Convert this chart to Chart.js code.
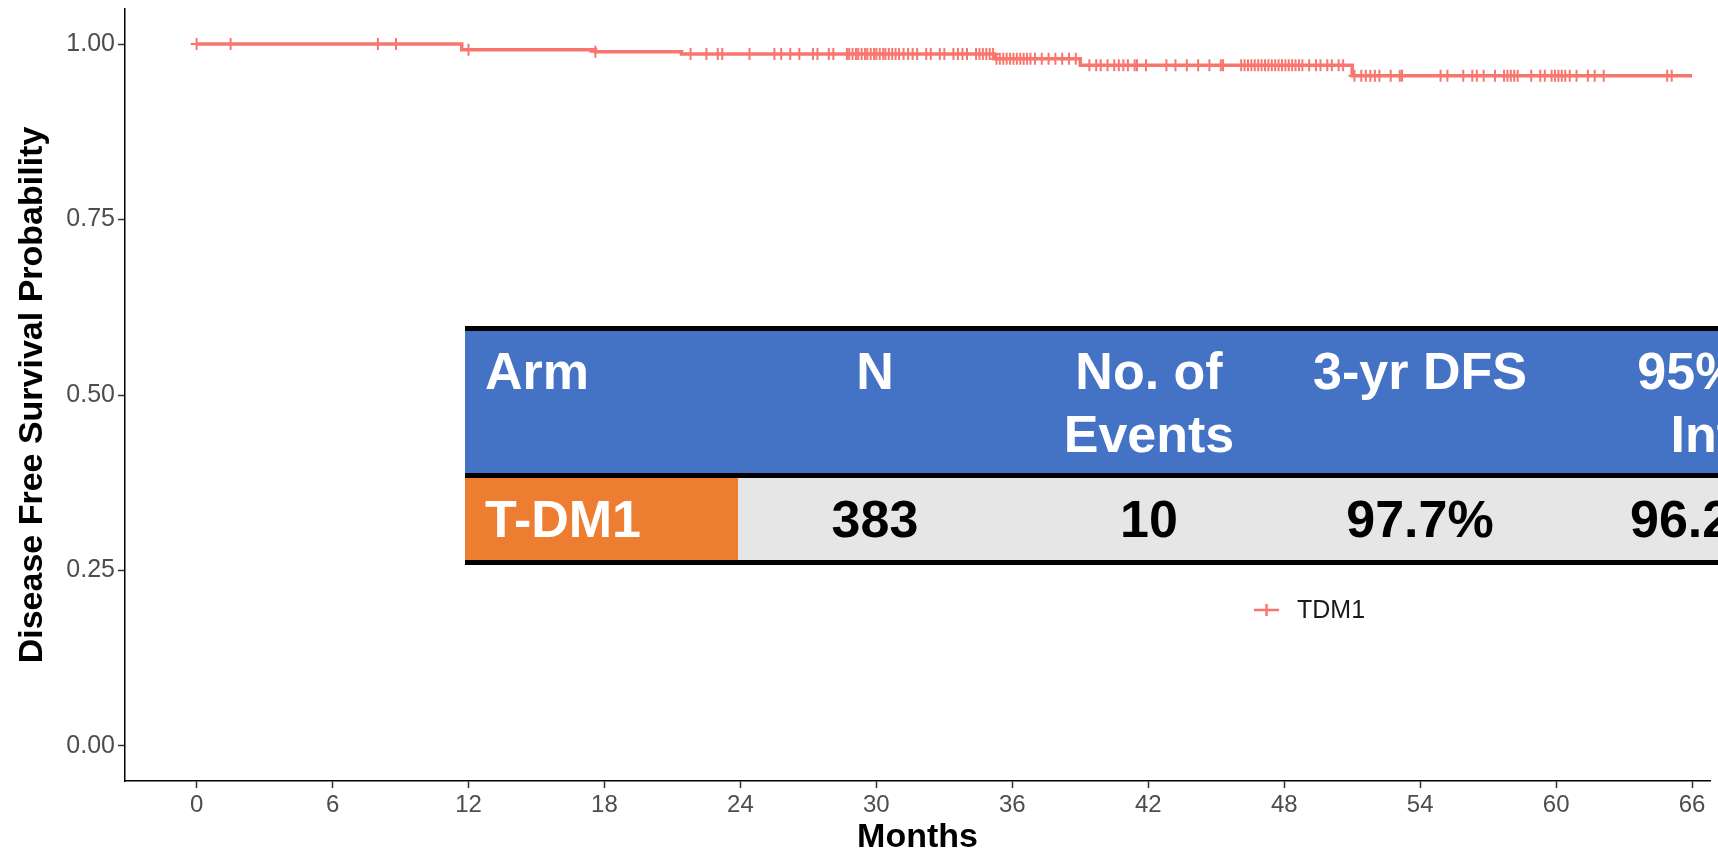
<!DOCTYPE html>
<html lang="en">
<head>
    <meta charset="UTF-8">
    <title>Disease Free Survival - T-DM1</title>
    <script src="https://cdn.jsdelivr.net/npm/chart.js"></script>
    <style>
        html, body { margin: 0; padding: 0; background: #fff; overflow: hidden; }
        #wrap { position: relative; width: 1718px; height: 851px; }
        #kmChart { position: absolute; left: 0; top: 0; }
        /* summary table drawn over the plot */
        .summary {
            position: absolute; left: 465px; top: 326px;
            font-family: 'Liberation Sans', Arial, sans-serif;
            font-weight: bold; font-size: 52px; white-space: pre-line;
        }
        .row { display: flex; border-top: 5px solid #000; }
        .row.head { height: 142px; background: #4472C4; color: #fff; }
        .row.body { height: 82px; background: #E7E6E6; color: #000; border-bottom: 5px solid #000; }
        .cell { flex: none; box-sizing: border-box; text-align: center; }
        .head .cell { padding-top: 9px; line-height: 63px; }
        .body .cell { line-height: 82px; }
        .cell.arm { text-align: left; padding-left: 20px; }
        .body .cell.arm { background: #ED7D31; color: #fff; }
    </style>
</head>
<body>
<div id="wrap">
    <canvas id="kmChart" width="1718" height="851"></canvas>
    <div class="summary" id="summary"></div>
</div>

<script>
    // Kaplan-Meier steps (months, survival probability)
    const kmTimes = [0, 11.7, 17.6, 21.4, 35.2, 39.0, 51.0, 66.0];
    const kmSurv  = [1.0, 0.992, 0.989, 0.986, 0.979, 0.970, 0.955, 0.955];

    // censoring marks (months)
    const censorTimes = [
        0, 1.5, 8.0, 8.8, 12.0, 17.6, 21.8,
        22.5, 23.0, 23.2, 24.4, 25.5, 25.8, 26.2, 26.6, 27.2, 27.4, 27.9, 28.1,
        28.7, 28.8, 28.95, 29.1, 29.2, 29.35, 29.5, 29.6, 29.75, 29.9, 30.0, 30.15,
        30.3, 30.4, 30.55, 30.7, 30.85, 31.0, 31.2, 31.4,
        31.6, 31.8, 32.2, 32.4, 32.8, 33.0, 33.4, 33.6, 33.8, 34.0,
        34.4, 34.55, 34.7, 34.85, 35.0, 35.15, 35.3,
        35.45, 35.6, 35.75, 35.9, 36.05, 36.2, 36.35, 36.5, 36.65, 36.8,
        37.0, 37.3, 37.6, 37.9, 38.2, 38.5, 38.8,
        39.4, 39.7, 39.9, 40.2, 40.5, 40.7, 40.9, 41.1, 41.4, 41.5, 41.9,
        42.8, 43.2, 43.7, 44.2, 44.7, 45.2, 45.3,
        46.1, 46.25, 46.4, 46.55, 46.7, 46.85, 47.0, 47.15, 47.3, 47.45, 47.6,
        47.75, 47.9, 48.05, 48.2, 48.35, 48.5, 48.65, 48.8,
        49.1, 49.4, 49.6, 49.9, 50.1, 50.4, 50.6,
        51.1, 51.4, 51.6, 51.8, 52.0, 52.2, 52.7, 53.1, 53.2,
        54.9, 55.2, 55.9, 56.3, 56.5, 56.8, 57.3, 57.7, 57.85, 58.0, 58.15, 58.3,
        58.9, 59.3, 59.5, 59.8, 59.95, 60.1, 60.25, 60.4, 60.6, 60.9,
        61.4, 61.7, 62.1, 64.9, 65.1
    ];

    const xTicks = [0, 6, 12, 18, 24, 30, 36, 42, 48, 54, 60, 66];
    const yTicks = [0, 0.25, 0.5, 0.75, 1.0];

    // summary table
    const tableHeaders = ['Arm', 'N', 'No. of\nEvents', '3-yr DFS', '95% Conf.\nInterval'];
    const tableValues  = ['T-DM1', '383', '10', '97.7%', '96.2-99.3%'];
    const colWidths = [273, 274, 274, 268, 418];

    const lineColor = '#F8766D';
    const fontFamily = "'Liberation Sans', Arial, sans-serif";

    // build the table
    var summary = document.getElementById('summary');
    [['head', tableHeaders], ['body', tableValues]].forEach(function (r) {
        var row = document.createElement('div');
        row.className = 'row ' + r[0];
        r[1].forEach(function (txt, i) {
            var c = document.createElement('div');
            c.className = 'cell' + (i === 0 ? ' arm' : '');
            c.style.width = colWidths[i] + 'px';
            c.textContent = txt;
            row.appendChild(c);
        });
        summary.appendChild(row);
    });

    function survAt(t) {
        var s = kmSurv[0];
        for (var i = 0; i < kmTimes.length; i++) {
            if (kmTimes[i] <= t) s = kmSurv[i];
        }
        return s;
    }

    // legend placed inside the plot, like the original
    const kmLegend = {
        id: 'kmLegend',
        afterDraw(chart) {
            const ctx = chart.ctx;
            const ds = chart.data.datasets[0];
            const x = 1254, y = 610;
            ctx.save();
            ctx.strokeStyle = ds.borderColor;
            ctx.lineWidth = 2.5;
            ctx.beginPath();
            ctx.moveTo(x, y); ctx.lineTo(x + 25, y);
            ctx.moveTo(x + 12.5, y - 6); ctx.lineTo(x + 12.5, y + 6);
            ctx.stroke();
            ctx.fillStyle = '#1a1a1a';
            ctx.font = '25px ' + fontFamily;
            ctx.textBaseline = 'middle';
            ctx.fillText(ds.label, x + 43, y + 1);
            ctx.restore();
        }
    };

    var ctx = document.getElementById('kmChart').getContext('2d');
    new Chart(ctx, {
        type: 'line',
        data: {
            datasets: [{
                label: 'TDM1',
                data: kmTimes.map((t, i) => ({ x: t, y: kmSurv[i] })),
                stepped: 'before',
                borderColor: lineColor,
                borderWidth: 3.5,
                pointRadius: 0,
                fill: false
            }, {
                label: 'censored',
                data: censorTimes.map(t => ({ x: t, y: survAt(t) })),
                showLine: false,
                pointStyle: 'cross',
                pointRadius: 6,
                pointBorderWidth: 2,
                pointBorderColor: lineColor,
                borderColor: lineColor
            }]
        },
        options: {
            responsive: false,
            animation: false,
            layout: { padding: { top: 9, left: 0, right: 0, bottom: 0 } },
            plugins: { legend: { display: false }, tooltip: { enabled: false } },
            scales: {
                x: {
                    type: 'linear',
                    min: -3.16,
                    max: 66.79,
                    afterBuildTicks: s => { s.ticks = xTicks.map(v => ({ value: v })); },
                    afterFit: s => { s.height = 70; s.paddingLeft = 0; s.paddingRight = 0; },
                    ticks: {
                        color: '#4d4d4d', padding: 3, maxRotation: 0, autoSkip: false,
                        font: { size: 24, family: fontFamily }
                    },
                    grid: { drawOnChartArea: false, drawTicks: true, tickLength: 7, tickColor: '#333', tickWidth: 1.5 },
                    border: { display: true, color: '#000', width: 1.5 },
                    title: {
                        display: true, text: 'Months', color: '#000',
                        font: { size: 34, weight: 'bold', family: fontFamily, lineHeight: 0.8 },
                        padding: { top: 0, bottom: 0 }
                    }
                },
                y: {
                    min: -0.05,
                    max: 1.05,
                    afterBuildTicks: s => { s.ticks = yTicks.map(v => ({ value: v })); },
                    afterFit: s => { s.width = 125; s.paddingTop = 0; s.paddingBottom = 0; },
                    ticks: {
                        color: '#4d4d4d', padding: 3,
                        font: { size: 25, family: fontFamily },
                        callback: v => v.toFixed(2)
                    },
                    grid: { drawOnChartArea: false, drawTicks: true, tickLength: 7, tickColor: '#333', tickWidth: 1.5 },
                    border: { display: true, color: '#000', width: 1.5 },
                    title: {
                        display: true, text: 'Disease Free Survival Probability', color: '#000',
                        font: { size: 34, weight: 'bold', family: fontFamily, lineHeight: 1 },
                        padding: { top: 16, bottom: 0 }
                    }
                }
            }
        },
        plugins: [kmLegend]
    });
</script>
</body>
</html>
